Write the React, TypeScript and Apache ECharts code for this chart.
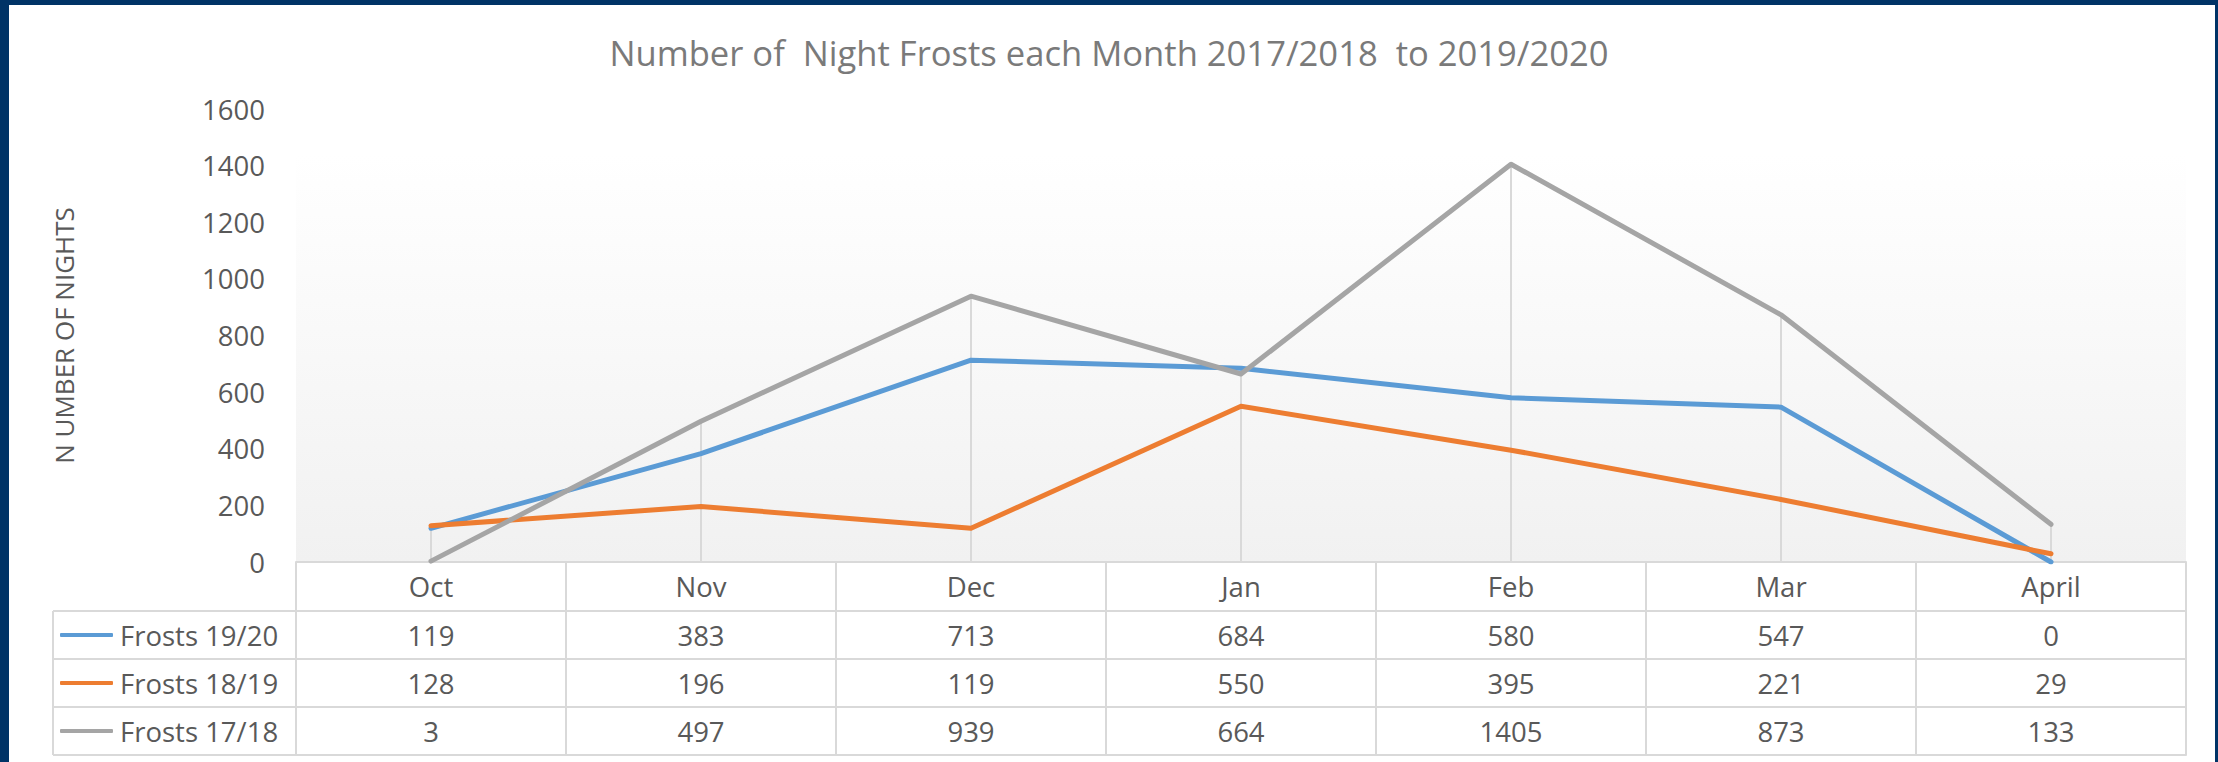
import React, { useEffect, useRef } from "react";
import * as echarts from "echarts";

const months = ["Oct", "Nov", "Dec", "Jan", "Feb", "Mar", "April"];
const seriesNames = ["Frosts 19/20", "Frosts 18/19", "Frosts 17/18"];
const frosts1920 = [119, 383, 713, 684, 580, 547, 0];
const frosts1819 = [128, 196, 119, 550, 395, 221, 29];
const frosts1718 = [3, 497, 939, 664, 1405, 873, 133];
const seriesColors = ["#5b9bd5", "#ed7d31", "#a5a5a5"];
const yTicks = { min: 0, max: 1600, interval: 200 };

const FONT = "'Open Sans', sans-serif";
const GRID_COLOR = "#d9d9d9";
const TEXT = "#595959";

export default function App() {
  const ref = useRef<HTMLDivElement>(null);

  useEffect(() => {
    if (!ref.current) return;
    const chart = echarts.init(ref.current, undefined, { renderer: "svg" });
    const rows = [frosts1920, frosts1819, frosts1718];
    const dropMax = months.map((_, i) => Math.max(...rows.map((r) => r[i])));

    const gridLeft = 296;
    const gridRight = 32;
    const gridTop = 109;
    const gridBottom = 200;
    const axisY = 762 - gridBottom;
    const headerH = 49;
    const rowH = 48;

    const lineStyle = { color: GRID_COLOR, width: 2 };

    const xAxes: any[] = [
      {
        type: "category",
        data: months,
        position: "bottom",
        boundaryGap: true,
        axisLine: { show: true, lineStyle },
        axisTick: { show: true, interval: 0, length: headerH, lineStyle },
        axisLabel: { color: TEXT, fontSize: 27.5, fontFamily: FONT, margin: 10, interval: 0 },
        splitLine: { show: false },
      },
      ...rows.map((row, r) => ({
        type: "category",
        data: months,
        position: "bottom",
        offset: headerH + rowH * r,
        boundaryGap: true,
        axisLine: { show: true, lineStyle },
        axisTick: { show: true, interval: 0, length: rowH, lineStyle },
        axisLabel: {
          color: TEXT,
          fontSize: 27.5,
          fontFamily: FONT,
          margin: 10,
          interval: 0,
          formatter: (_v: string, i: number) => String(row[i]),
        },
        splitLine: { show: false },
      })),
      {
        type: "category",
        data: months,
        position: "bottom",
        offset: headerH + rowH * 3,
        boundaryGap: true,
        axisLine: { show: true, lineStyle },
        axisTick: { show: false },
        axisLabel: { show: false },
        splitLine: { show: false },
      },
    ];

    const tableLeft = 53;
    const rowLines = [0, 1, 2, 3].map((k) => ({
      type: "line",
      shape: {
        x1: tableLeft,
        y1: axisY + headerH + rowH * k,
        x2: gridLeft,
        y2: axisY + headerH + rowH * k,
      },
      style: { stroke: GRID_COLOR, lineWidth: 2 },
      silent: true,
    }));

    const option: any = {
      animation: false,
      backgroundColor: "#ffffff",
      textStyle: { fontFamily: FONT },
      title: {
        text: "Number of  Night Frosts each Month 2017/2018  to 2019/2020",
        left: "center",
        top: 30,
        textStyle: { color: "#7a7a7a", fontSize: 34.6, fontWeight: "normal", fontFamily: FONT },
      },
      grid: {
        left: gridLeft,
        right: gridRight,
        top: gridTop,
        bottom: gridBottom,
        show: true,
        borderWidth: 0,
        backgroundColor: new echarts.graphic.LinearGradient(0, 0, 0, 1, [
          { offset: 0, color: "#ffffff" },
          { offset: 0.1, color: "#ffffff" },
          { offset: 1, color: "#f1f1f1" },
        ]),
      },
      legend: seriesNames.map((name, r) => ({
        data: [name],
        left: 60,
        top: axisY + headerH + rowH * r + rowH / 2 - 15,
        padding: 0,
        icon: "roundRect",
        itemWidth: 53,
        itemHeight: 4,
        selectedMode: false,
        textStyle: { color: TEXT, fontSize: 27.5, fontFamily: FONT, lineHeight: 30, padding: [0, 0, 0, 2] },
      })),
      xAxis: xAxes,
      yAxis: {
        type: "value",
        min: yTicks.min,
        max: yTicks.max,
        interval: yTicks.interval,
        name: "N UMBER OF NIGHTS",
        nameLocation: "middle",
        nameRotate: 90,
        nameGap: 219,
        nameTextStyle: { color: TEXT, fontSize: 26, fontFamily: FONT },
        axisLine: { show: false },
        axisTick: { show: false },
        splitLine: { show: false },
        axisLabel: {
          color: TEXT,
          fontSize: 27.5,
          fontFamily: FONT,
          margin: 31,
          formatter: (v: number) => String(v),
        },
      },
      graphic: [
        ...rowLines,
        {
          type: "line",
          shape: { x1: tableLeft, y1: axisY + headerH, x2: tableLeft, y2: axisY + headerH + rowH * 3 },
          style: { stroke: GRID_COLOR, lineWidth: 2 },
          silent: true,
        },
        { type: "rect", shape: { x: 0, y: 0, width: 9, height: 762 }, style: { fill: "#003366" }, silent: true },
        { type: "rect", shape: { x: 0, y: 0, width: 2218, height: 5 }, style: { fill: "#003366" }, silent: true },
        { type: "rect", shape: { x: 2215, y: 0, width: 3, height: 762 }, style: { fill: "#003366" }, silent: true },
      ],
      series: [
        {
          type: "bar",
          name: "drop",
          data: dropMax,
          barWidth: 2,
          itemStyle: { color: GRID_COLOR },
          silent: true,
          z: 1,
        },
        ...rows.map((row, r) => ({
          type: "line",
          name: seriesNames[r],
          data: row,
          symbol: "none",
          color: seriesColors[r],
          lineStyle: { width: 5, color: seriesColors[r], cap: "round", join: "round" },
          z: 3 + r,
        })),
      ],
    };

    chart.setOption(option);
    return () => chart.dispose();
  }, []);

  return (
    <div
      ref={ref}
      style={{ position: "absolute", left: 0, top: 0, width: 2218, height: 762 }}
    />
  );
}
